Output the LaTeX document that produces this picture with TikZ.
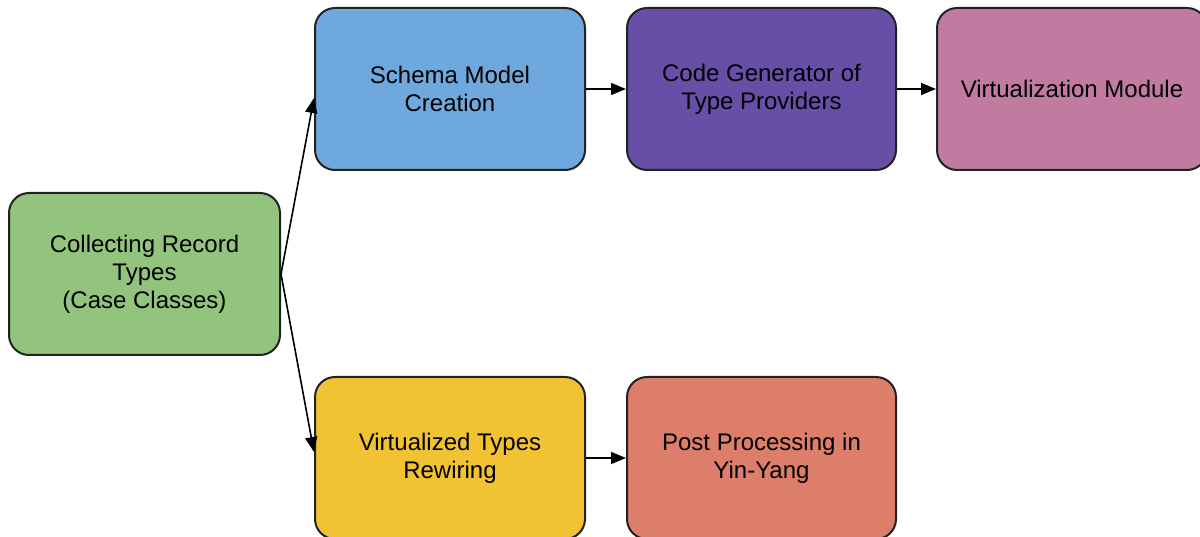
\documentclass[tikz,border=0pt]{standalone}
\usepackage{fontspec}
\setmainfont{Liberation Sans}
\usetikzlibrary{arrows.meta}
\definecolor{cgreen}{HTML}{93C47D}
\definecolor{cblue}{HTML}{6FA8DC}
\definecolor{cpurple}{HTML}{674EA7}
\definecolor{cpink}{HTML}{C27BA0}
\definecolor{cyellow}{HTML}{F1C232}
\definecolor{corange}{HTML}{DD7E6B}
\definecolor{edge}{HTML}{222222}
\tikzset{
  box/.style={draw=edge, line width=2pt, rounded corners=20pt,
    minimum width=270pt, minimum height=162pt, align=center,
    font=\fontsize{24}{28}\selectfont, text=black, inner sep=0pt},
  link/.style={draw=black, line width=1.6pt,
    -{Triangle[length=15pt,width=12pt]}}
}
\begin{document}
\begin{tikzpicture}[x=1pt,y=-1pt]
  \useasboundingbox (0,0) rectangle (1200,537);
  \begin{scope}
  \clip (0,0) rectangle (1200,537);
  \node[box, fill=cgreen, minimum width=271pt] (collect) at (144.5,274)
    {Collecting Record\\Types\\(Case Classes)};
  \node[box, fill=cblue] (schema) at (450,89) {Schema Model\\Creation};
  \node[box, fill=cpurple, minimum width=269pt] (codegen) at (761.5,89)
    {Code Generator of\\Type Providers};
  \node[box, fill=cpink] (virtmod) at (1072,89) {Virtualization Module};
  \node[box, fill=cyellow] (rewire) at (450,458) {Virtualized Types\\Rewiring};
  \node[box, fill=corange, minimum width=269pt] (post) at (761.5,458)
    {Post Processing in\\Yin-Yang};

  \draw[link] (collect.east) -- ([yshift=-9pt]schema.west);
  \draw[link] (collect.east) -- ([yshift=6pt]rewire.west);
  \draw[link] (schema) -- (codegen);
  \draw[link] (codegen) -- (virtmod);
  \draw[link] (rewire) -- (post);
  \end{scope}
\end{tikzpicture}
\end{document}
